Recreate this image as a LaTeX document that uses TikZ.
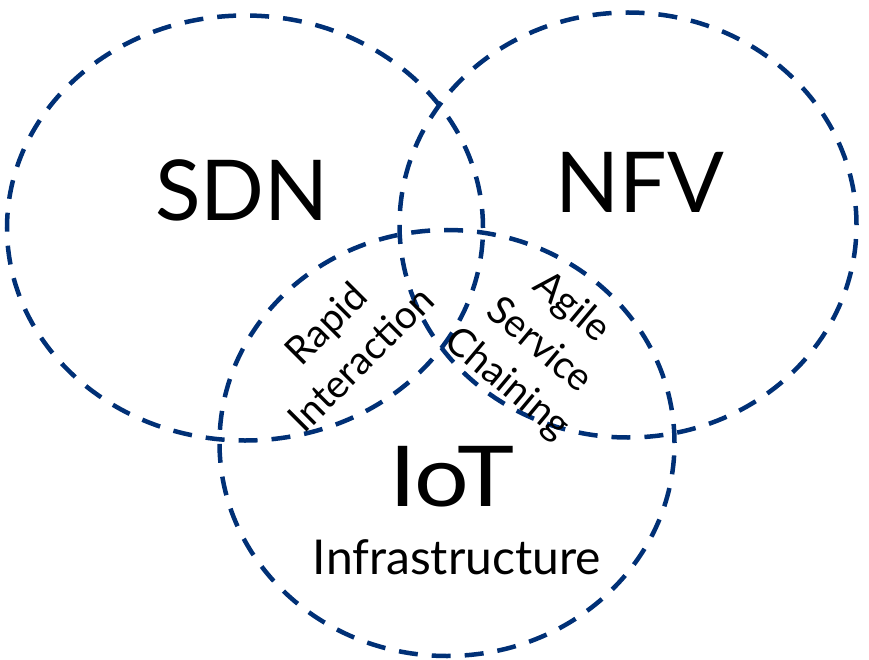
\documentclass[tikz,border=0pt]{standalone}
\usepackage{fontspec}
\setmainfont{Lato}
\usetikzlibrary{shapes.geometric}
\definecolor{navy}{RGB}{0,48,118}
\tikzset{
  setring/.style={ellipse, draw=navy, line width=4.5pt,
    dash pattern=on 19pt off 14pt, inner sep=0pt, outer sep=0pt},
  biglabel/.style={font=\fontsize{84}{84}\selectfont, inner sep=0pt},
  sublabel/.style={font=\fontsize{48}{48}\selectfont, inner sep=0pt},
  overlap/.style={font=\fontsize{39}{50}\selectfont, align=center, inner sep=0pt}
}
\begin{document}
\begin{tikzpicture}[x=1pt,y=-1pt]
  \useasboundingbox (0,0) rectangle (869,660);
  % the three sets
  \node[setring, minimum width=476pt, minimum height=425pt] (sdn) at (245,228) {};
  \node[setring, minimum width=457pt, minimum height=425pt] (nfv) at (628,225) {};
  \node[setring, minimum width=455pt, minimum height=426pt] (iot) at (447,443) {};
  % set names
  \node[biglabel] (sdnlabel) at (242,190) {SDN};
  \node[biglabel] (nfvlabel) at (640,182) {NFV};
  \node[biglabel, xscale=1.15] (iotlabel) at (452,477) {IoT};
  \node[sublabel] (infra) at (457,557) {Infrastructure};
  % pairwise overlaps
  \node[overlap, rotate=45] (rapid) at (343,341) {Rapid\\Interaction};
  \node[overlap, rotate=-40] (agile) at (539,346) {Agile\\Service\\Chaining};
\end{tikzpicture}
\end{document}
